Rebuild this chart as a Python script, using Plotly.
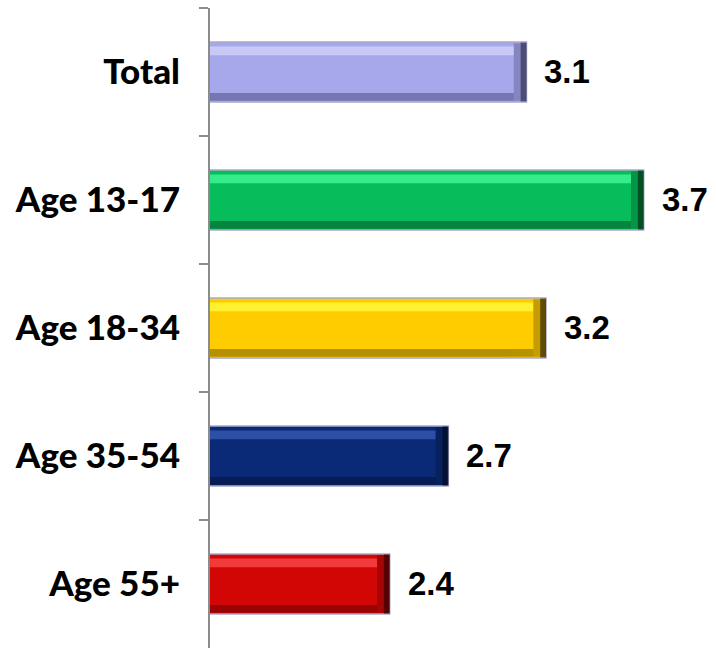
import plotly.graph_objects as go

# Average score by age group
categories = ["Total", "Age 13-17", "Age 18-34", "Age 35-54", "Age 55+"]
values = [3.1, 3.7, 3.2, 2.7, 2.4]
value_labels = ["3.1", "3.7", "3.2", "2.7", "2.4"]

# Per-bar palette: face, highlight (top bevel), shadow (bottom bevel), end cap
face = ["#A7A7EC", "#07BD5B", "#FFCC00", "#0A2A78", "#D30606"]
light = ["#C9C9F7", "#34EC8C", "#FFF030", "#2D4FA6", "#F23A3A"]
dark = ["#6E6EA8", "#067A3A", "#A98600", "#061A4C", "#8E0404"]
cap = ["#3A3A5C", "#033A1C", "#3E3200", "#030C26", "#3C0202"]

BAR_W = 0.47
X_MIN, X_MAX = 1.48, 4.07
CAP = 0.03
SOFT_CAP = 0.065

fig = go.Figure()

# Main bar face with a soft lavender rim
fig.add_trace(go.Bar(
    y=categories, x=values, orientation="h", width=BAR_W,
    marker=dict(color=face, line=dict(color="#A9A9C9", width=1.5)),
    hoverinfo="skip",
))
# Top bevel highlight
fig.add_trace(go.Bar(
    y=categories, x=[v - SOFT_CAP for v in values], orientation="h",
    width=0.07, offset=-0.20,
    marker=dict(color=light, line=dict(width=0)),
    hoverinfo="skip",
))
# Bottom bevel shadow
fig.add_trace(go.Bar(
    y=categories, x=[v - SOFT_CAP for v in values], orientation="h",
    width=0.06, offset=0.165,
    marker=dict(color=dark, line=dict(width=0)),
    opacity=0.85, hoverinfo="skip",
))
# Soft shading leading into the right end
fig.add_trace(go.Bar(
    y=categories, x=[SOFT_CAP] * len(values), base=[v - SOFT_CAP for v in values],
    orientation="h", width=BAR_W - 0.02,
    marker=dict(color=cap, line=dict(width=0)),
    opacity=0.3, hoverinfo="skip",
))
# Dark end cap on the right
fig.add_trace(go.Bar(
    y=categories, x=[CAP] * len(values), base=[v - CAP for v in values],
    orientation="h", width=BAR_W - 0.01,
    marker=dict(color=cap, line=dict(width=0)),
    opacity=0.75, hoverinfo="skip",
))

for cat, v, lab in zip(categories, values, value_labels):
    fig.add_annotation(
        x=v, y=cat, text=lab, showarrow=False,
        xanchor="left", yanchor="middle", xshift=16, yshift=1,
        font=dict(family="Liberation Sans, Arial", size=33, color="#000000", weight="bold"),
    )

fig.update_layout(
    width=716, height=648,
    margin=dict(l=210, r=0, t=8, b=0),
    paper_bgcolor="white", plot_bgcolor="white",
    barmode="overlay", showlegend=False,
)
fig.update_xaxes(
    range=[X_MIN, X_MAX], visible=False, showgrid=False, zeroline=False,
)
fig.update_yaxes(
    autorange="reversed", tickson="boundaries",
    ticks="outside", ticklen=9, tickwidth=2, tickcolor="#8C8C8C",
    showline=True, linecolor="#8C8C8C", linewidth=2,
    showgrid=False, zeroline=False, ticklabelstandoff=21,
    tickfont=dict(family="Lato, Noto Sans, sans-serif", size=35, color="#000000", weight=900),
)

fig.write_html("out.html")
